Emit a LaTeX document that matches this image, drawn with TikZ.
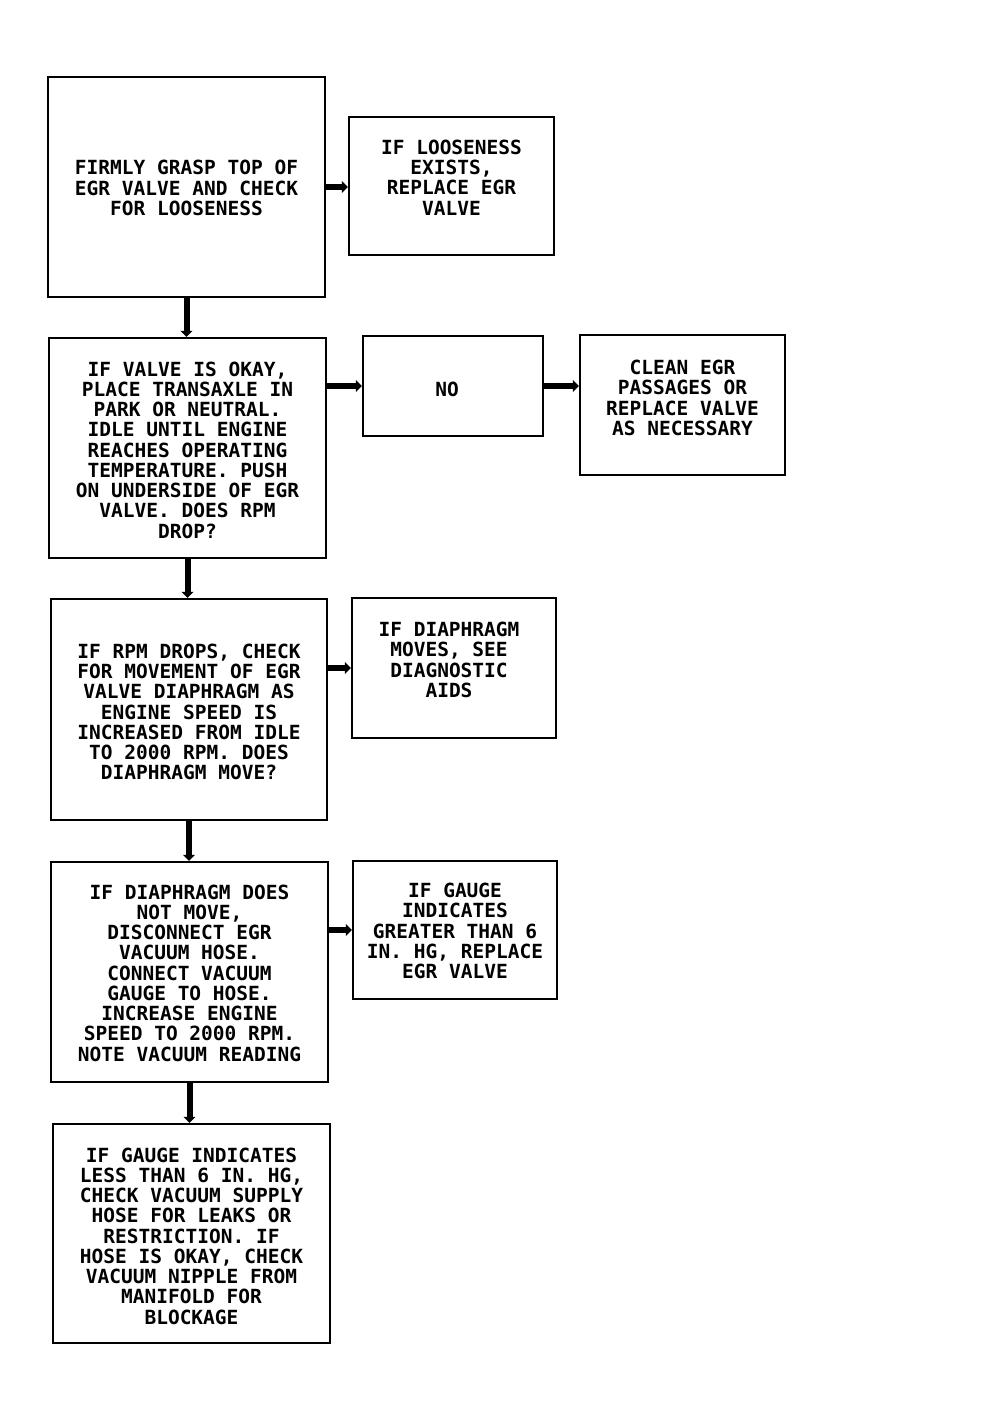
\documentclass[tikz,border=0pt]{standalone}
\usepackage{fontspec}
\newfontfamily\monofont{DejaVu Sans Mono}
\usetikzlibrary{arrows.meta}
\tikzset{
  box/.style={draw, line width=2.4pt, inner sep=0pt, fill=none},
  txt/.style={font=\monofont\bfseries\fontsize{19.5}{20.25}\selectfont, align=center, inner sep=0pt},
  flow/.style={line width=6pt, -{Triangle[length=6pt 0 0, width=12pt 0 0]}, shorten <=-1pt}
}
\begin{document}
\begin{tikzpicture}[x=1pt,y=-1pt]
\useasboundingbox (0,0) rectangle (1002,1426);
% boxes
\node[box, minimum width=277pt, minimum height=220pt] (b1) at (186.5,187) {};
\node[box, minimum width=205pt, minimum height=138pt] (b2) at (451.5,186) {};
\node[box, minimum width=277pt, minimum height=220pt] (b3) at (187.5,448) {};
\node[box, minimum width=180pt, minimum height=100pt] (bno) at (453,386) {};
\node[box, minimum width=205pt, minimum height=140pt] (bcl) at (682.5,405) {};
\node[box, minimum width=276pt, minimum height=221pt] (b4) at (189,709.5) {};
\node[box, minimum width=204pt, minimum height=140pt] (bd) at (454,668) {};
\node[box, minimum width=277pt, minimum height=220pt] (b5) at (189.5,972) {};
\node[box, minimum width=204pt, minimum height=138pt] (bg) at (455,930) {};
\node[box, minimum width=277pt, minimum height=219pt] (b6) at (191.5,1233.5) {};
% texts
\node[txt] (t1) at (186.5,188) {FIRMLY GRASP TOP OF\\EGR VALVE AND CHECK\\FOR LOOSENESS};
\node[txt] (t2) at (451.5,177.5) {IF LOOSENESS\\EXISTS,\\REPLACE EGR\\VALVE};
\node[txt] (t3) at (187.5,450) {IF VALVE IS OKAY,\\PLACE TRANSAXLE IN\\PARK OR NEUTRAL.\\IDLE UNTIL ENGINE\\REACHES OPERATING\\TEMPERATURE. PUSH\\ON UNDERSIDE OF EGR\\VALVE. DOES RPM\\DROP?};
\node[txt] (tno) at (447,389) {NO};
\node[txt] (tcl) at (682.5,398) {CLEAN EGR\\PASSAGES OR\\REPLACE VALVE\\AS NECESSARY};
\node[txt] (t4) at (189,712) {IF RPM DROPS, CHECK\\FOR MOVEMENT OF EGR\\VALVE DIAPHRAGM AS\\ENGINE SPEED IS\\INCREASED FROM IDLE\\TO 2000 RPM. DOES\\DIAPHRAGM MOVE?};
\node[txt] (td) at (449,660) {IF DIAPHRAGM\\MOVES, SEE\\DIAGNOSTIC\\AIDS};
\node[txt] (t5) at (189.5,973) {IF DIAPHRAGM DOES\\NOT MOVE,\\DISCONNECT EGR\\VACUUM HOSE.\\CONNECT VACUUM\\GAUGE TO HOSE.\\INCREASE ENGINE\\SPEED TO 2000 RPM.\\NOTE VACUUM READING};
\node[txt] (tg) at (455,931) {IF GAUGE\\INDICATES\\GREATER THAN 6\\IN. HG, REPLACE\\EGR VALVE};
\node[txt] (t6) at (191.5,1236) {IF GAUGE INDICATES\\LESS THAN 6 IN. HG,\\CHECK VACUUM SUPPLY\\HOSE FOR LEAKS OR\\RESTRICTION. IF\\HOSE IS OKAY, CHECK\\VACUUM NIPPLE FROM\\MANIFOLD FOR\\BLOCKAGE};
% connectors
\draw[flow] (b1.south) -- (b1.south |- b3.north);
\draw[flow] (b3.south) -- (b3.south |- b4.north);
\draw[flow] (b4.south) -- (b4.south |- b5.north);
\draw[flow] (b5.south) -- (b5.south |- b6.north);
\draw[flow] (b1.east) -- (b1.east -| b2.west);
\draw[flow] (b3.east |- bno.west) -- (bno.west);
\draw[flow] (bno.east) -- (bno.east -| bcl.west);
\draw[flow] (b4.east |- bd.west) -- (bd.west);
\draw[flow] (b5.east |- bg.west) -- (bg.west);
\end{tikzpicture}
\end{document}
